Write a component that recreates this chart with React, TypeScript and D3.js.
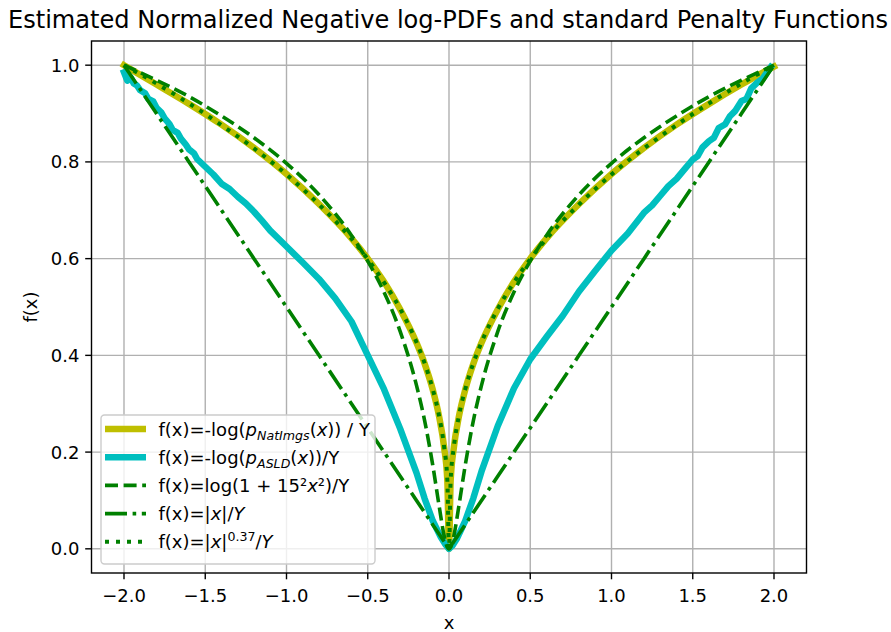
import React from "react";
import * as d3 from "d3";

// Sample positions shared by the analytic penalty curves and the NatImgs estimate
const X_GRID = [
  -2.0, -1.8, -1.6, -1.4, -1.2, -1.0, -0.8, -0.6, -0.5, -0.4, -0.3, -0.2, -0.15, -0.1, -0.06, -0.03, -0.01, 0,
  0.01, 0.03, 0.06, 0.1, 0.15, 0.2, 0.3, 0.4, 0.5, 0.6, 0.8, 1.0, 1.2, 1.4, 1.6, 1.8, 2.0,
];

// -log(p_NatImgs(x)) / Y
const NAT_IMGS = [
  1.0, 0.96, 0.92, 0.877, 0.829, 0.775, 0.713, 0.642, 0.6, 0.552, 0.495, 0.426, 0.383, 0.329, 0.272, 0.21, 0.14, 0,
  0.14, 0.21, 0.272, 0.329, 0.383, 0.426, 0.495, 0.552, 0.6, 0.642, 0.713, 0.775, 0.829, 0.877, 0.92, 0.96, 0.997,
];

// log(1 + 15²x²) / Y
const CAUCHY = [
  1.0, 0.969, 0.935, 0.895, 0.85, 0.797, 0.732, 0.648, 0.595, 0.531, 0.449, 0.338, 0.265, 0.173, 0.087, 0.027, 0.003, 0,
  0.003, 0.027, 0.087, 0.173, 0.265, 0.338, 0.449, 0.531, 0.595, 0.648, 0.732, 0.797, 0.85, 0.895, 0.935, 0.969, 1.0,
];

// |x| / Y
const L1 = [
  1.0, 0.9, 0.8, 0.7, 0.6, 0.5, 0.4, 0.3, 0.25, 0.2, 0.15, 0.1, 0.075, 0.05, 0.03, 0.015, 0.005, 0,
  0.005, 0.015, 0.03, 0.05, 0.075, 0.1, 0.15, 0.2, 0.25, 0.3, 0.4, 0.5, 0.6, 0.7, 0.8, 0.9, 1.0,
];

// |x|^0.37 / Y
const LP = [
  1.0, 0.962, 0.921, 0.876, 0.828, 0.774, 0.712, 0.641, 0.599, 0.551, 0.496, 0.427, 0.384, 0.33, 0.273, 0.211, 0.141, 0,
  0.141, 0.211, 0.273, 0.33, 0.384, 0.427, 0.496, 0.551, 0.599, 0.641, 0.712, 0.774, 0.828, 0.876, 0.921, 0.962, 1.0,
];

// -log(p_ASLD(x)) / Y  (empirical, noisy)
const ASLD_X = [
  -2.0, -1.98, -1.96, -1.94, -1.92, -1.9, -1.87, -1.85, -1.82, -1.8, -1.77, -1.75, -1.72, -1.7, -1.67, -1.65, -1.62,
  -1.6, -1.57, -1.55, -1.5, -1.45, -1.4, -1.35, -1.3, -1.25, -1.2, -1.15, -1.1, -1.0, -0.9, -0.8, -0.7, -0.6, -0.5,
  -0.4, -0.3, -0.2, -0.15, -0.1, -0.05, -0.02, 0, 0.02, 0.05, 0.1, 0.15, 0.2, 0.3, 0.4, 0.5, 0.6, 0.7, 0.8, 0.9, 1.0,
  1.1, 1.2, 1.25, 1.3, 1.35, 1.4, 1.45, 1.5, 1.53, 1.56, 1.6, 1.63, 1.66, 1.7, 1.73, 1.76, 1.8, 1.83, 1.86, 1.9, 1.93,
  1.96, 1.98,
];
const ASLD_Y = [
  0.985, 0.968, 0.975, 0.962, 0.958, 0.948, 0.942, 0.93, 0.925, 0.912, 0.902, 0.89, 0.878, 0.866, 0.86, 0.848, 0.836,
  0.826, 0.818, 0.806, 0.79, 0.774, 0.755, 0.744, 0.728, 0.714, 0.697, 0.678, 0.658, 0.625, 0.592, 0.558, 0.518,
  0.47, 0.4, 0.33, 0.248, 0.157, 0.104, 0.058, 0.024, 0.008, 0, 0.006, 0.022, 0.058, 0.105, 0.16, 0.254, 0.332,
  0.392, 0.438, 0.482, 0.532, 0.575, 0.617, 0.652, 0.695, 0.71, 0.73, 0.75, 0.765, 0.785, 0.805, 0.812, 0.83, 0.843,
  0.85, 0.87, 0.878, 0.895, 0.905, 0.926, 0.93, 0.952, 0.965, 0.972, 0.987, 0.996,
];

const X_TICKS = [-2.0, -1.5, -1.0, -0.5, 0.0, 0.5, 1.0, 1.5, 2.0];
const Y_TICKS = [0.0, 0.2, 0.4, 0.6, 0.8, 1.0];

const YELLOW = "#bfbf00";
const CYAN = "#00bfbf";
const GREEN = "#008000";
const FONT = "DejaVu Sans, sans-serif";

const W = 891;
const H = 632;
const PLOT = { left: 91.5, right: 806.5, top: 41, bottom: 573 };

const fmtTick = (v: number) => (v < 0 ? "\u2212" : "") + Math.abs(v).toFixed(1);

export default function App() {
  const x = d3.scaleLinear().domain([-2.2, 2.2]).range([PLOT.left, PLOT.right]);
  const y = d3.scaleLinear().domain([-0.05, 1.05]).range([PLOT.bottom, PLOT.top]);

  const smooth = d3
    .line<[number, number]>()
    .x((d) => x(d[0]))
    .y((d) => y(d[1]))
    .curve(d3.curveMonotoneX);
  const straight = d3
    .line<[number, number]>()
    .x((d) => x(d[0]))
    .y((d) => y(d[1]));

  const pairs = (xs: number[], ys: number[]) => xs.map((v, i) => [v, ys[i]] as [number, number]);

  const natPath = smooth(pairs(X_GRID, NAT_IMGS)) || "";
  const asldPath = straight(pairs(ASLD_X, ASLD_Y)) || "";
  const cauchyPath = smooth(pairs(X_GRID, CAUCHY)) || "";
  const l1Path = straight(pairs(X_GRID, L1)) || "";
  const lpPath = smooth(pairs(X_GRID, LP)) || "";

  const lg = { x: 101, y: 415, w: 274, h: 149 };
  const rowY = (i: number) => 429 + i * 28.2;
  const hx0 = 105;
  const hx1 = 146;
  const tx = 158.5;
  const fs = 18;
  const sub = 12.6;

  return (
    <svg width={W} height={H} viewBox={`0 0 ${W} ${H}`} style={{ display: "block", position: "absolute", left: 0, top: 0 }}>
      <rect x={0} y={0} width={W} height={H} fill="#ffffff" />
      <defs>
        <clipPath id="plot-clip">
          <rect x={PLOT.left} y={PLOT.top} width={PLOT.right - PLOT.left} height={PLOT.bottom - PLOT.top} />
        </clipPath>
      </defs>

      {/* grid */}
      <g stroke="#b0b0b0" strokeWidth={1.4}>
        {X_TICKS.map((t) => (
          <line key={"gx" + t} x1={x(t)} x2={x(t)} y1={PLOT.top} y2={PLOT.bottom} />
        ))}
        {Y_TICKS.map((t) => (
          <line key={"gy" + t} x1={PLOT.left} x2={PLOT.right} y1={y(t)} y2={y(t)} />
        ))}
      </g>

      {/* curves */}
      <g clipPath="url(#plot-clip)" fill="none" strokeLinejoin="round">
        <path d={natPath} stroke={YELLOW} strokeWidth={6.5} strokeLinecap="square" />
        <path d={asldPath} stroke={CYAN} strokeWidth={6.5} strokeLinecap="square" />
        <path d={cauchyPath} stroke={GREEN} strokeWidth={3.6} strokeDasharray="13 5.6" />
        <path d={l1Path} stroke={GREEN} strokeWidth={3.6} strokeDasharray="22 5.6 3.6 5.6" />
        <path d={lpPath} stroke={GREEN} strokeWidth={4} strokeDasharray="4 7" />
      </g>

      {/* spines */}
      <rect
        x={PLOT.left}
        y={PLOT.top}
        width={PLOT.right - PLOT.left}
        height={PLOT.bottom - PLOT.top}
        fill="none"
        stroke="#000"
        strokeWidth={1.4}
      />

      {/* axes, ticks and labels */}
      <g fontFamily={FONT} fontSize={fs} fill="#000">
        {X_TICKS.map((t) => (
          <g key={"xt" + t}>
            <line x1={x(t)} x2={x(t)} y1={PLOT.bottom} y2={PLOT.bottom + 6.3} stroke="#000" strokeWidth={1.4} />
            <text x={x(t)} y={602} textAnchor="middle">
              {fmtTick(t)}
            </text>
          </g>
        ))}
        {Y_TICKS.map((t) => (
          <g key={"yt" + t}>
            <line x1={PLOT.left - 6.3} x2={PLOT.left} y1={y(t)} y2={y(t)} stroke="#000" strokeWidth={1.4} />
            <text x={79.5} y={y(t) + 6.5} textAnchor="end">
              {fmtTick(t)}
            </text>
          </g>
        ))}
        <text x={x(0)} y={629} textAnchor="middle">
          x
        </text>
        <text transform={`translate(37,${(PLOT.top + PLOT.bottom) / 2}) rotate(-90)`} textAnchor="middle">
          f(x)
        </text>
        <text x={8} y={28} fontSize={24} textLength={880} lengthAdjust="spacingAndGlyphs">
          Estimated Normalized Negative log-PDFs and standard Penalty Functions
        </text>
      </g>

      {/* legend */}
      <g fontFamily={FONT} fontSize={fs} fill="#000">
        <rect x={lg.x} y={lg.y} width={lg.w} height={lg.h} rx={3.5} fill="#ffffff" fillOpacity={0.8} stroke="#cccccc" strokeWidth={1.4} />
        <line x1={hx0} x2={hx1} y1={rowY(0)} y2={rowY(0)} stroke={YELLOW} strokeWidth={6.5} />
        <line x1={hx0} x2={hx1} y1={rowY(1)} y2={rowY(1)} stroke={CYAN} strokeWidth={6.5} />
        <line x1={hx0} x2={hx1} y1={rowY(2)} y2={rowY(2)} stroke={GREEN} strokeWidth={3.6} strokeDasharray="13 5.6" />
        <line x1={hx0} x2={hx1} y1={rowY(3)} y2={rowY(3)} stroke={GREEN} strokeWidth={3.6} strokeDasharray="22 5.6 3.6 5.6" />
        <line x1={hx0} x2={hx1} y1={rowY(4)} y2={rowY(4)} stroke={GREEN} strokeWidth={4} strokeDasharray="4 7" />

        <text x={tx} y={rowY(0) + 6.5}>
          f(x)=-log(
          <tspan fontStyle="italic">p</tspan>
          <tspan fontStyle="italic" fontSize={sub} dy={4}>
            NatImgs
          </tspan>
          <tspan dy={-4}>(</tspan>
          <tspan fontStyle="italic">x</tspan>
          <tspan>)) / Y</tspan>
        </text>
        <text x={tx} y={rowY(1) + 6.5}>
          f(x)=-log(
          <tspan fontStyle="italic">p</tspan>
          <tspan fontStyle="italic" fontSize={sub} dy={4}>
            ASLD
          </tspan>
          <tspan dy={-4}>(</tspan>
          <tspan fontStyle="italic">x</tspan>
          <tspan>))/Y</tspan>
        </text>
        <text x={tx} y={rowY(2) + 6.5}>
          f(x)=log(1 + 15²
          <tspan fontStyle="italic">x</tspan>
          <tspan>²)/Y</tspan>
        </text>
        <text x={tx} y={rowY(3) + 6.5}>
          f(x)=|
          <tspan fontStyle="italic">x</tspan>
          <tspan>|/</tspan>
          <tspan fontStyle="italic">Y</tspan>
        </text>
        <text x={tx} y={rowY(4) + 6.5}>
          f(x)=|
          <tspan fontStyle="italic">x</tspan>
          <tspan>|</tspan>
          <tspan fontSize={sub} dy={-7.5}>
            0.37
          </tspan>
          <tspan dy={7.5}>/</tspan>
          <tspan fontStyle="italic">Y</tspan>
        </text>
      </g>
    </svg>
  );
}
